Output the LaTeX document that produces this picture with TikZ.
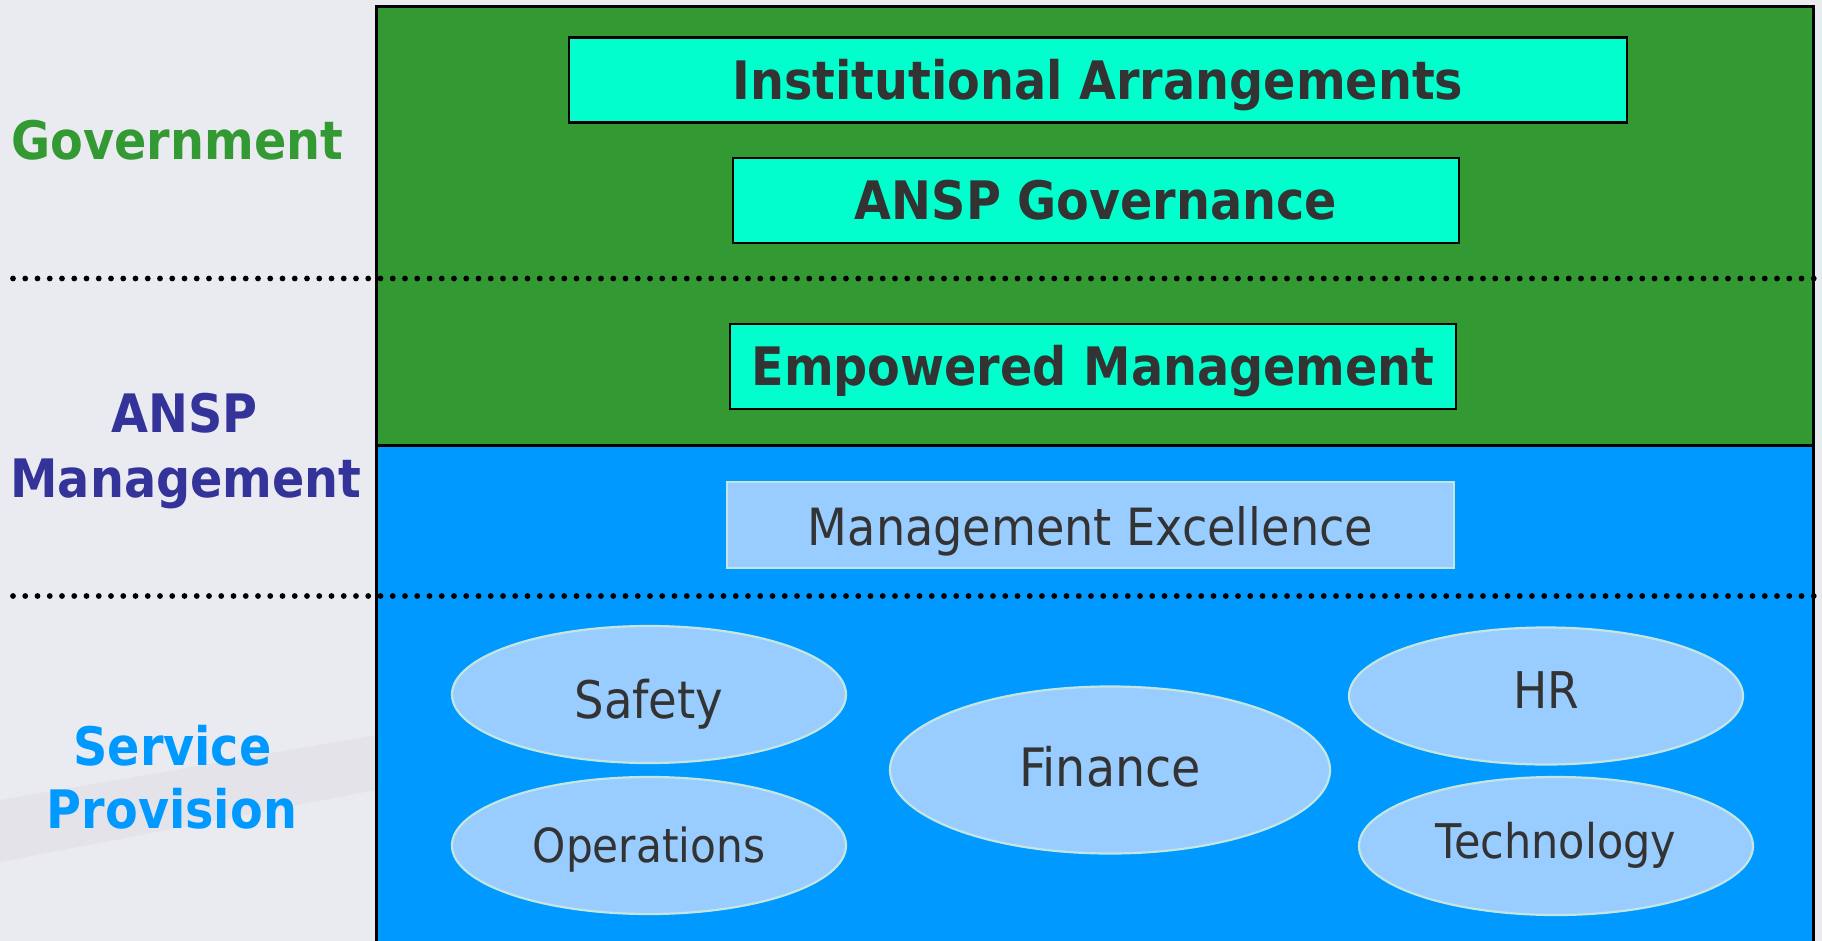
\documentclass[tikz,border=0pt]{standalone}
\usepackage{fontspec}
\setmainfont{DejaVu Sans Condensed}
\usetikzlibrary{shapes.geometric}
\definecolor{bgc}{HTML}{EAEBF1}
\definecolor{bandc}{HTML}{DCD6DE}
\definecolor{govgreen}{HTML}{339933}
\definecolor{panelblue}{HTML}{0099FF}
\definecolor{cyanbox}{HTML}{00FFCC}
\definecolor{lightblue}{HTML}{99CCFF}
\definecolor{lightedge}{HTML}{C4E6E0}
\definecolor{darktext}{HTML}{333333}
\definecolor{anspblue}{HTML}{333399}
\tikzset{
  panel/.style={draw=black, line width=3pt},
  dotline/.style={draw=black, line width=5.8pt, line cap=round, dash pattern=on 0pt off 12.25pt},
  cyanstyle/.style={rectangle, draw=black, line width=2.8pt, fill=cyanbox, inner sep=0pt,
    minimum height=85pt, text=darktext, font=\fontsize{53}{60}\selectfont\bfseries,
    text height=38.6pt, text depth=0pt},
  lightbox/.style={rectangle, draw=lightedge, line width=2.2pt, fill=lightblue, inner sep=0pt,
    minimum height=86pt, text=darktext, font=\fontsize{51.3}{58}\selectfont,
    text height=40.4pt, text depth=0pt},
  oval/.style={ellipse, draw=lightedge, line width=2.2pt, fill=lightblue, inner sep=0pt,
    minimum width=394pt, minimum height=137pt, text=darktext},
  sidelabel/.style={anchor=base, inner sep=0pt, font=\fontsize{53}{60}\selectfont\bfseries},
}
\begin{document}
\begin{tikzpicture}[x=1pt, y=-1pt]
\useasboundingbox (0,0) rectangle (1822,941);
% background
\fill[bgc] (0,0) rectangle (1822,941);
\fill[bandc, opacity=0.35] (0,800) -- (376,735) -- (376,790) -- (0,862) -- cycle;
% panels
\draw[panel, fill=govgreen] (376,7) rectangle (1813,445);
\draw[panel, fill=panelblue] (376,445) rectangle (1813,950);
% dotted separators
\coordinate (d1a) at (13,278.5);
\coordinate (d1b) at (1822,278.5);
\coordinate (d2a) at (13,596);
\coordinate (d2b) at (1822,596);
\draw[dotline] (d1a) -- (d1b);
\draw[dotline] (d2a) -- (d2b);
% side labels
\node[sidelabel, text=govgreen] (gov) at (177.5,160) {Government};
\node[sidelabel, text=anspblue] (ansp) at (184.5,432) {ANSP};
\node[sidelabel, text=anspblue] (mgmt) at (186,497) {Management};
\node[sidelabel, text=panelblue] (serv) at (172.5,765) {Service};
\node[sidelabel, text=panelblue] (prov) at (172,828) {Provision};
% boxes
\node[cyanstyle, minimum width=1058pt] (ia) at (1098,80) {Institutional Arrangements};
\node[cyanstyle, minimum width=726pt] (ag) at (1096,200.5) {ANSP Governance};
\node[cyanstyle, minimum width=726pt] (em) at (1093,366.5) {Empowered Management};
\node[lightbox, minimum width=727pt] (me) at (1090.5,525) {Management Excellence};
% ellipses
\node[oval, font=\fontsize{51.8}{58}\selectfont, text height=47.8pt, text depth=0pt]
  (safety) at (649,694.5) {Safety};
\node[oval, font=\fontsize{47}{54}\selectfont, text height=34.5pt, text depth=0pt]
  (ops) at (649,845.5) {Operations};
\node[oval, minimum width=440pt, minimum height=167pt, font=\fontsize{52.9}{60}\selectfont,
  text height=38.6pt, text depth=5pt] (fin) at (1110,770) {Finance};
\node[oval, font=\fontsize{50.6}{58}\selectfont, text height=36.9pt, text depth=12pt]
  (hr) at (1546,696) {HR};
\node[oval, minimum height=138pt, font=\fontsize{47.8}{54}\selectfont, text height=34.6pt,
  text depth=9pt] (tech) at (1556,846) {Technology};
\end{tikzpicture}
\end{document}
